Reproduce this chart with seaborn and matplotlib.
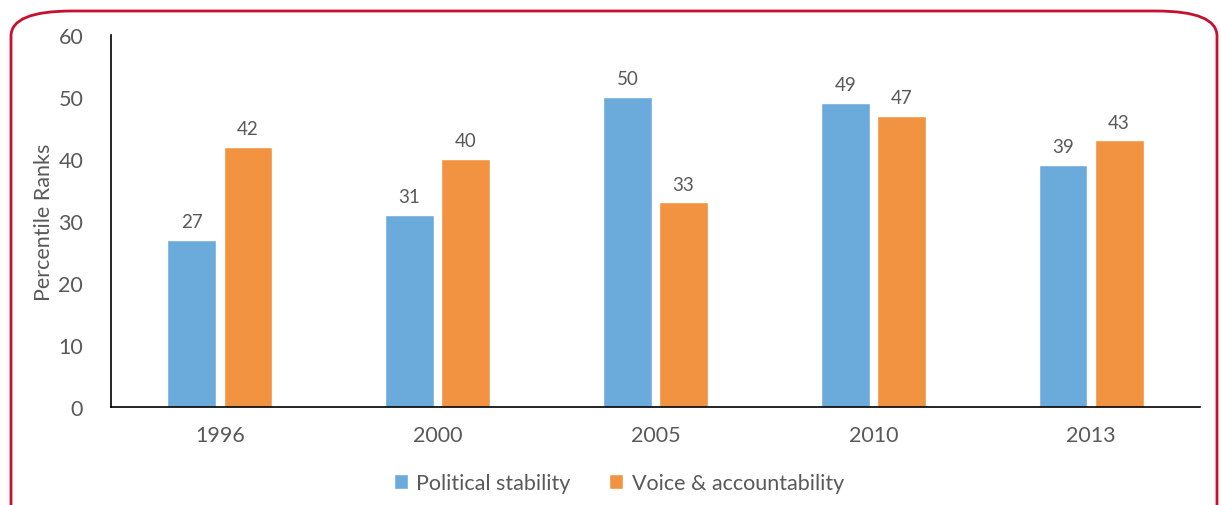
import matplotlib

matplotlib.use("Agg")
import matplotlib.pyplot as plt
import pandas as pd
import seaborn as sns
from matplotlib.patches import FancyBboxPatch

years = ["1996", "2000", "2005", "2010", "2013"]
political_stability = [27, 31, 50, 49, 39]
voice_accountability = [42, 40, 33, 47, 43]
series_names = ["Political stability", "Voice & accountability"]
colors = ["#6AABDB", "#F29341"]
text_color = "#595959"

df = pd.DataFrame(
    {
        "Year": years * 2,
        "Value": political_stability + voice_accountability,
        "Series": [series_names[0]] * len(years) + [series_names[1]] * len(years),
    }
)

sns.set_style("white")
plt.rcParams["font.family"] = ["Lato", "DejaVu Sans"]

fig = plt.figure(figsize=(12.21, 5.06), dpi=100)
ax = fig.add_axes([0.0909, 0.1937, 0.8919, 0.7352])

sns.barplot(
    data=df,
    x="Year",
    y="Value",
    hue="Series",
    palette=colors,
    width=0.515,
    gap=0.13,
    saturation=1,
    ax=ax,
)

for container in ax.containers:
    ax.bar_label(container, fmt="%d", padding=7, fontsize=13.5, color=text_color)

ax.set_ylim(0, 60)
ax.set_yticks(range(0, 61, 10))
ax.set_xlim(-0.5, len(years) - 0.5)
ax.set_xlabel("")
ax.set_ylabel("Percentile Ranks", fontsize=15.5, color=text_color, labelpad=3)
ax.tick_params(axis="both", length=0, labelsize=15.5, colors=text_color)
ax.tick_params(axis="x", pad=13)
ax.tick_params(axis="y", pad=20)

for side in ["top", "right"]:
    ax.spines[side].set_visible(False)
for side in ["left", "bottom"]:
    ax.spines[side].set_color("black")
    ax.spines[side].set_linewidth(1.2)

leg = fig.legend(
    *ax.get_legend_handles_labels(),
    loc="center",
    bbox_to_anchor=(619 / 1221, 1 - 484 / 506),
    ncol=2,
    frameon=False,
    fontsize=15.5,
    handlelength=0.65,
    handleheight=0.65,
    handletextpad=0.4,
    columnspacing=1.8,
)
ax.get_legend().remove()
for t in leg.get_texts():
    t.set_color(text_color)

# rounded red frame around the chart
frame = FancyBboxPatch(
    (11 / 1221, -0.05),
    (1217 - 11) / 1221,
    (506 - 12) / 506 + 0.05,
    boxstyle="round,pad=0,rounding_size=0.05",
    transform=fig.transFigure,
    fill=False,
    edgecolor="#C8102E",
    linewidth=2,
    mutation_aspect=506 / 1221 * 2.4,
)
fig.patches.append(frame)

fig.savefig("out.png", dpi=100)
